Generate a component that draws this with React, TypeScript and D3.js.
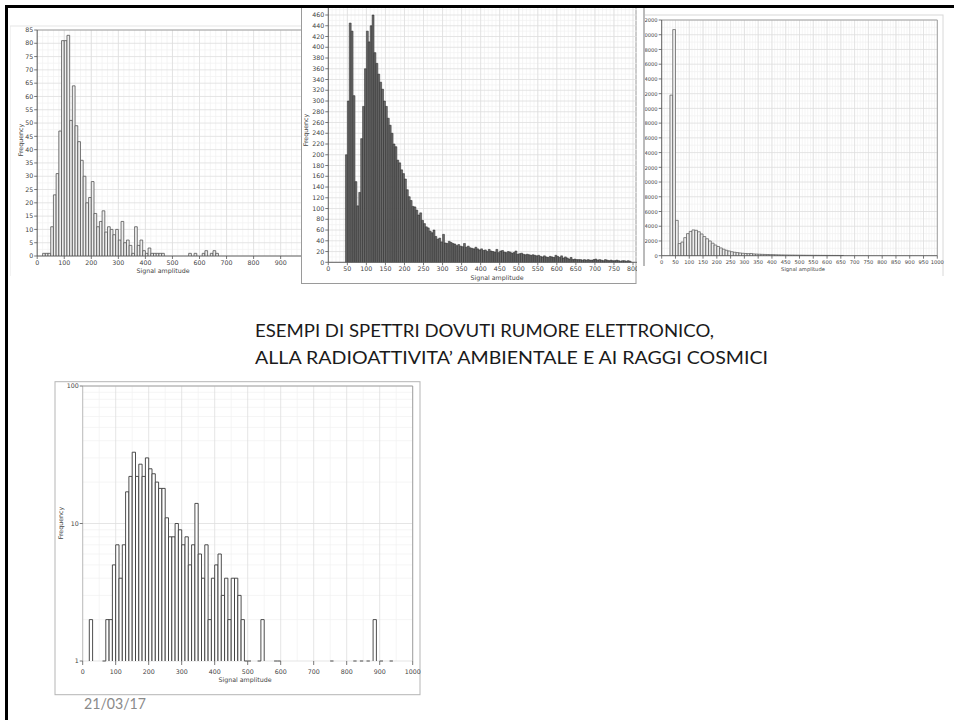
import React from 'react';
import * as d3 from 'd3';

// electronic noise spectrum (top left), bins of 10
const noiseBins = [20, 30, 40, 50, 60, 70, 80, 90, 100, 110, 120, 130, 140, 150, 160, 170, 180, 190, 200, 210,
    220, 230, 240, 250, 260, 270, 280, 290, 300, 310, 320, 330, 340, 350, 360, 370, 380, 390, 400, 410,
    420, 430, 440, 450, 460, 560, 580, 610, 620, 640, 650, 660];
const noiseCounts = [1, 1, 1, 11, 23, 31, 47, 81, 81, 83, 51, 64, 49, 43, 36, 30, 20, 22, 28, 16,
    11, 13, 17, 9, 11, 10, 8, 10, 6, 13, 5, 6, 4, 1, 11, 4, 6, 2, 1, 3,
    1, 1, 1, 1, 1, 1, 1, 1, 2, 1, 2, 1];
const noiseXTicks = [0, 100, 200, 300, 400, 500, 600, 700, 800, 900];
const noiseYTicks = [0, 5, 10, 15, 20, 25, 30, 35, 40, 45, 50, 55, 60, 65, 70, 75, 80, 85];

// ambient radioactivity spectrum (top middle), bins of 5 starting at 45
const ambientFirstBin = 45;
const ambientCounts = [
    200, 300, 445, 430, 310, 150, 105, 130, 230, 290,
    360, 430, 410, 440, 460, 390, 370, 350, 335, 322,
    300, 290, 268, 255, 240, 220, 215, 190, 185, 172,
    165, 155, 135, 122, 115, 104, 103, 97, 88, 92,
    78, 72, 66, 64, 58, 55, 60, 48, 43, 45,
    38, 52, 36, 35, 39, 37, 35, 34, 31, 33,
    30, 29, 35, 28, 30, 27, 26, 25, 28, 25,
    23, 25, 22, 23, 20, 24, 21, 20, 19, 24,
    18, 21, 22, 19, 18, 20, 19, 17, 18, 21,
    15, 16, 17, 15, 14, 15, 14, 13, 14, 13,
    12, 13, 11, 10, 12, 10, 9, 11, 10, 9,
    13, 11, 9, 12, 8, 10, 8, 6, 9, 5,
    6, 5, 5, 5, 4, 5, 4, 5, 4, 4,
    5, 6, 4, 5, 4, 3, 5, 4, 3, 4,
    3, 3, 4, 3, 2, 3, 3, 2, 3, 2
];
const ambientXTicks = [0, 50, 100, 150, 200, 250, 300, 350, 400, 450, 500, 550, 600, 650, 700, 750, 800];
const ambientYTicks = [0, 20, 40, 60, 80, 100, 120, 140, 160, 180, 200, 220, 240, 260, 280, 300,
    320, 340, 360, 380, 400, 420, 440, 460];

// noise + radioactivity (top right), bins of 10
const mixedBins = [30, 40, 50, 60, 70, 80, 90, 100, 110, 120, 130, 140, 150, 160, 170, 180, 190, 200,
    210, 220, 230, 240, 250, 260, 270, 280, 290, 300, 310, 320, 330, 340, 350, 360, 370, 380, 390, 400,
    410, 420, 430, 440, 450, 460, 470, 480, 490, 500, 510, 520, 530, 540, 550, 560, 570, 580, 590, 600,
    610, 620, 630, 640, 650];
const mixedCounts = [21800, 30700, 4800, 1650, 1850, 2450, 3000, 3300, 3500, 3450, 3250, 2950, 2600, 2300,
    2000, 1700, 1450, 1250, 1050, 880, 740, 640, 540, 470, 420, 370, 330, 300, 280, 300, 240, 220, 200,
    185, 170, 160, 150, 140, 125, 115, 105, 100, 95, 90, 85, 80, 75, 70, 65, 60, 58, 55, 52, 50, 48,
    45, 43, 40, 38, 36, 34, 32, 30];
const mixedXTicks = [0, 50, 100, 150, 200, 250, 300, 350, 400, 450, 500, 550, 600, 650, 700, 750, 800,
    850, 900, 950, 1000];
const mixedYTicks = [0, 2000, 4000, 6000, 8000, 10000, 12000, 14000, 16000, 18000, 20000, 22000, 24000,
    26000, 28000, 30000, 32000];

// cosmic rays (bottom, log scale), bins of 10
const cosmicBins = [20, 60, 70, 80, 90, 100, 110, 120, 130, 140, 150, 160, 170, 180, 190, 200, 210, 220,
    230, 240, 250, 260, 270, 280, 290, 300, 310, 320, 330, 340, 350, 360, 370, 380, 390, 400, 410, 420,
    430, 440, 450, 460, 470, 480, 490, 500, 530, 540, 580, 590, 750, 820, 840, 860, 880, 900, 930];
const cosmicCounts = [2, 1, 2, 2, 5, 7, 4, 7, 17, 22, 33, 22, 27, 22, 30, 25, 23, 20,
    18, 18, 11, 8, 8, 10, 9, 7, 8, 5, 7, 14, 6, 4, 7, 2, 4, 5, 6, 3,
    4, 2, 4, 4, 3, 2, 1, 1, 1, 2, 1, 1, 1, 1, 1, 1, 2, 1, 1];
const cosmicXTicks = [0, 100, 200, 300, 400, 500, 600, 700, 800, 900, 1000];
const cosmicYTicks = [1, 10, 100];

const titleLines = ['ESEMPI DI SPETTRI DOVUTI RUMORE ELETTRONICO,', 'ALLA RADIOATTIVITA\u2019 AMBIENTALE E AI RAGGI COSMICI'];
const dateLabel = '21/03/17';

const axisFont = 'DejaVu Sans, Verdana, sans-serif';

function Hist(props: any) {
    const { id, clip, box, boxStroke, x, y, top, right, bins, counts, binWidth, base,
        xTicks, yTicks, xMinor, yMinor, yMajor, fill, stroke, sw, xTitle, yTitle, fmt,
        fs = 6.3, labelGap = 8.5, tickLen = 3, bottomAxis = true } = props;
    const left = x(0);
    const bottom = y(base);
    return (
        <g>
            <defs>
                <clipPath id={id}>
                    <rect x={clip[0]} y={clip[1]} width={clip[2]} height={clip[3]} />
                </clipPath>
            </defs>
            <g clipPath={`url(#${id})`}>
                <rect x={box[0]} y={box[1]} width={box[2]} height={box[3]} fill="#fff" stroke={boxStroke} strokeWidth={1} />
                {xMinor.map((v: number, i: number) => (
                    <line key={'xm' + i} x1={x(v)} x2={x(v)} y1={top} y2={bottom} stroke="#f0f0f0" strokeWidth={0.7} />
                ))}
                {yMinor.map((v: number, i: number) => (
                    <line key={'ym' + i} x1={left} x2={right} y1={y(v)} y2={y(v)} stroke="#f0f0f0" strokeWidth={0.7} />
                ))}
                {xTicks.map((v: number, i: number) => (
                    <line key={'xg' + i} x1={x(v)} x2={x(v)} y1={top} y2={bottom} stroke="#dedede" strokeWidth={0.8} />
                ))}
                {(yMajor || yTicks).map((v: number, i: number) => (
                    <line key={'yg' + i} x1={left} x2={right} y1={y(v)} y2={y(v)} stroke="#dedede" strokeWidth={0.8} />
                ))}
                {bins.map((b: number, i: number) => (
                    <path key={'b' + i}
                        d={`M${x(b)},${bottom}V${y(counts[i])}H${x(b + binWidth)}V${bottom}`}
                        fill={fill} stroke={stroke} strokeWidth={sw} />
                ))}
                <path d={`M${left},${top}H${right}V${bottom}`} fill="none" stroke="#9a9a9a" strokeWidth={0.9} />
                {bottomAxis && <line x1={left} x2={right} y1={bottom} y2={bottom} stroke="#555" strokeWidth={0.9} />}
                <line x1={left} x2={left} y1={bottom} y2={top} stroke={bottomAxis ? '#555' : '#bbb'} strokeWidth={0.9} />
                {xTicks.map((v: number, i: number) => (
                    <g key={'xt' + i}>
                        <line x1={x(v)} x2={x(v)} y1={bottom} y2={bottom + tickLen} stroke="#555" strokeWidth={0.8} />
                        <text x={x(v)} y={bottom + labelGap} fontSize={fs} fontFamily={axisFont} fill="#444" textAnchor="middle">{v}</text>
                    </g>
                ))}
                {yTicks.map((v: number, i: number) => (
                    <g key={'yt' + i}>
                        <line x1={left - 3} x2={left} y1={y(v)} y2={y(v)} stroke="#555" strokeWidth={0.8} />
                        <text x={left - 4} y={y(v) + 2.2} fontSize={fs} fontFamily={axisFont} fill="#444" textAnchor="end">{fmt(v)}</text>
                    </g>
                ))}
                <text x={xTitle[0]} y={xTitle[1]} fontSize={fs} fontFamily={axisFont} fill="#444" textAnchor="middle">Signal amplitude</text>
                <text transform={`translate(${yTitle[0]},${yTitle[1]}) rotate(-90)`} fontSize={fs} fontFamily={axisFont} fill="#444" textAnchor="middle">Frequency</text>
            </g>
        </g>
    );
}

export default function App() {
    const noiseX = d3.scaleLinear().domain([0, 1000]).range([37.2, 307.7]);
    const noiseY = d3.scaleLinear().domain([0, 85]).range([256, 30]);

    const ambientX = d3.scaleLinear().domain([0, 800]).range([328.3, 633]);
    const ambientY = d3.scaleLinear().domain([0, 460]).range([262.3, 15]);
    const ambientBins = ambientCounts.map((_, i) => ambientFirstBin + i * 5);

    const mixedX = d3.scaleLinear().domain([0, 1000]).range([661.7, 937.3]);
    const mixedY = d3.scaleLinear().domain([0, 32000]).range([255.7, 20]);

    const cosmicX = d3.scaleLinear().domain([0, 1000]).range([82.7, 412.7]);
    const cosmicY = d3.scaleLog().domain([1, 100]).range([661, 386]);
    const cosmicMinor = [2, 3, 4, 5, 6, 7, 8, 9, 20, 30, 40, 50, 60, 70, 80, 90];

    const intFmt = d3.format('d');

    return (
        <div style={{ position: 'absolute', left: 0, top: 0 }}>
            <svg width={954} height={720} style={{ display: 'block', background: '#fff' }}>
                <Hist id="clipNoise" clip={[10, 8, 291, 268]} box={[10, 26, 300, 260]} boxStroke="#e6e6e6"
                    x={noiseX} y={noiseY} top={30} right={320}
                    bins={noiseBins} counts={noiseCounts} binWidth={10} base={0}
                    xTicks={noiseXTicks} yTicks={noiseYTicks}
                    xMinor={d3.range(0, 1001, 20)} yMinor={d3.range(2.5, 85, 5)}
                    fill="#efefef" stroke="#555" sw={0.8} fmt={intFmt}
                    xTitle={[163, 273]} yTitle={[22.5, 140]} />

                <Hist id="clipMixed" clip={[645, 12, 305, 264]} box={[644, 15, 299, 270]} boxStroke="#d8d8d8"
                    x={mixedX} y={mixedY} top={20} right={937.3}
                    bins={mixedBins} counts={mixedCounts} binWidth={10} base={0}
                    xTicks={mixedXTicks} yTicks={mixedYTicks}
                    xMinor={d3.range(10, 1000, 10)} yMinor={d3.range(1000, 32000, 2000)}
                    fill="#efefef" stroke="#555" sw={0.7} fmt={intFmt} fs={5.2}
                    xTitle={[803, 271]} yTitle={[630, 138]} />
                <line x1={644} x2={644} y1={8} y2={266} stroke="#777" strokeWidth={1} />

                <Hist id="clipAmbient" clip={[301, 8, 336, 278]} box={[301.5, 2, 334.5, 281.5]} boxStroke="#9a9a9a"
                    x={ambientX} y={ambientY} top={4} right={640}
                    bins={ambientBins} counts={ambientCounts} binWidth={5} base={0}
                    xTicks={ambientXTicks} yTicks={ambientYTicks}
                    xMinor={d3.range(10, 800, 10)} yMinor={d3.range(10, 480, 20)}
                    fill="#6f6f6f" stroke="#1e1e1e" sw={0.5} fmt={intFmt} labelGap={9}
                    xTitle={[497, 280]} yTitle={[308, 130]} />

                <Hist id="clipCosmic" clip={[54, 381, 367, 315]} box={[55, 381.7, 365, 313]} boxStroke="#b5b5b5"
                    x={cosmicX} y={cosmicY} top={386} right={412.7}
                    bins={cosmicBins} counts={cosmicCounts} binWidth={10} base={1}
                    xTicks={cosmicXTicks} yTicks={cosmicYTicks} yMajor={cosmicYTicks}
                    xMinor={d3.range(50, 1000, 100)} yMinor={cosmicMinor}
                    fill="#fff" stroke="#3a3a3a" sw={0.9} fmt={intFmt}
                    labelGap={13} tickLen={4} bottomAxis={false}
                    xTitle={[245, 682]} yTitle={[63, 523]} />

                {titleLines.map((t, i) => (
                    <text key={i} x={255} y={337 + i * 27} fontSize={18} fontFamily="Lato, 'Open Sans', sans-serif"
                        fill="#1a1a1a" textLength={i === 0 ? 459 : 513} lengthAdjust="spacingAndGlyphs">{t}</text>
                ))}
                <text x={84} y={709} fontSize={16} fontFamily="Lato, 'Open Sans', sans-serif" fill="#8a8a8a"
                    textLength={62} lengthAdjust="spacingAndGlyphs">{dateLabel}</text>

                <line x1={5} x2={954} y1={6.5} y2={6.5} stroke="#000" strokeWidth={3} />
                <line x1={6.5} x2={6.5} y1={5} y2={720} stroke="#000" strokeWidth={3} />
            </svg>
        </div>
    );
}
